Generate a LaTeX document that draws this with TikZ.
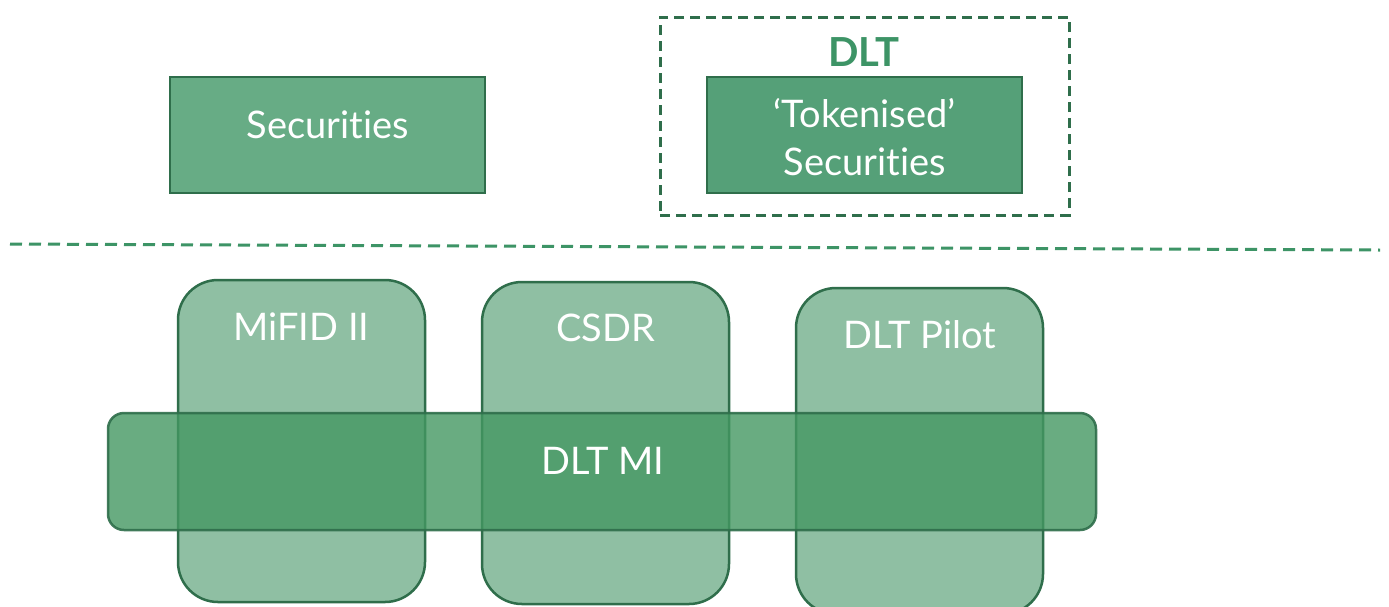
\documentclass[tikz,border=0pt]{standalone}
\usepackage{fontspec}
\setmainfont{Lato}[Ligatures=NoCommon]
\definecolor{edgegreen}{RGB}{47,110,75}
\definecolor{secfill}{RGB}{103,172,133}
\definecolor{tokfill}{RGB}{85,160,120}
\definecolor{dlttext}{RGB}{61,148,102}
\definecolor{regfill}{RGB}{143,191,163}
\definecolor{barfill}{RGB}{68,152,98}
\begin{document}
\begin{tikzpicture}[x=1pt,y=-1pt,
  txt/.style={text=white,font=\fontsize{38}{48}\selectfont,inner sep=0pt},
  secbox/.style={draw=edgegreen,line width=2.5pt,minimum width=315pt,minimum height=116pt,inner sep=0pt},
  regbox/.style={draw=edgegreen,line width=2.5pt,fill=regfill,rounded corners=40pt,minimum width=247pt,minimum height=322pt,inner sep=0pt},
  barbox/.style={draw=edgegreen,line width=2.5pt,fill=barfill,fill opacity=0.8,draw opacity=0.9,rounded corners=16pt,minimum width=988pt,minimum height=117pt,inner sep=0pt},
  dashbox/.style={draw=edgegreen,line width=3pt,dash pattern=on 10pt off 6pt,minimum width=409pt,minimum height=198pt,inner sep=0pt}
]
\clip (0,0) rectangle (1389,606);
\fill[white] (0,0) rectangle (1389,606);

% top section
\node[secbox,fill=secfill] (sec) at (327.5,135) {};
\node[txt] (seclbl) at (327.5,125) {Securities};

\node[dashbox] (dlt) at (864.5,116) {};
\node[font=\bfseries\fontsize{40}{48}\selectfont,text=dlttext,inner sep=0pt] (dltlbl) at (864,52) {DLT};
\node[secbox,fill=tokfill] (tok) at (864.5,135) {};
\node[txt,align=center] (toklbl) at (864.5,137) {‘Tokenised’\\Securities};

% separator
\coordinate (sepL) at (10,244);
\coordinate (sepR) at (1380,250);
\draw[draw=dlttext,line width=3pt,dash pattern=on 12pt off 7pt] (sepL) -- (sepR);

% regulation boxes
\node[regbox] (mifid) at (301.5,441) {};
\node[txt] (mifidlbl) at (301.5,327) {MiFID II};
\node[regbox] (csdr) at (605.5,443) {};
\node[txt] (csdrlbl) at (605.5,328) {CSDR};
\node[regbox,minimum height=326pt] (pilot) at (919.5,451) {};
\node[txt] (pilotlbl) at (919.5,335) {DLT Pilot};

% DLT MI bar
\node[barbox] (mi) at (602,471.5) {};
\node[txt] (milbl) at (603,461) {DLT MI};
\end{tikzpicture}
\end{document}
